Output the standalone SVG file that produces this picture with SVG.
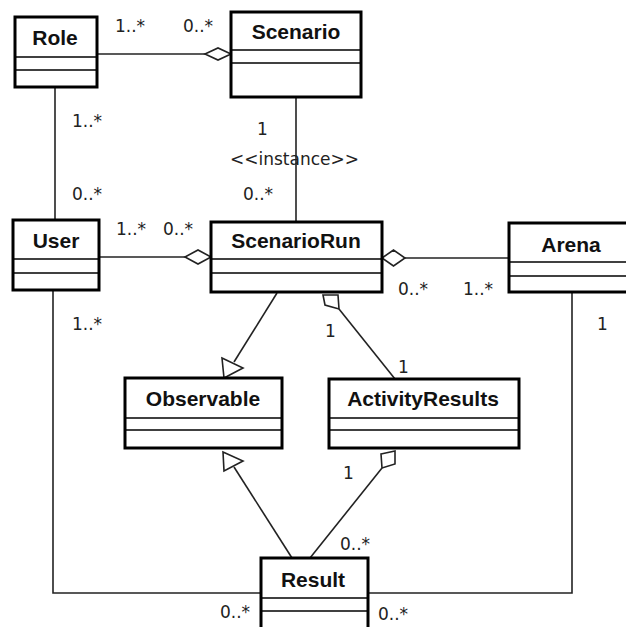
<svg xmlns="http://www.w3.org/2000/svg" width="626" height="627" viewBox="0 0 626 627">
<style>
.box{fill:#fff;stroke:#000;stroke-width:3}
.div{stroke:#000;stroke-width:1.5}
.title{font-family:"Liberation Sans",Arial,sans-serif;font-weight:bold;font-size:21px;fill:#111;text-anchor:middle}
.lbl{font-family:"DejaVu Sans",sans-serif;font-size:17px;fill:#222}
.ln{fill:none;stroke:#222;stroke-width:1.6}
.head{fill:#fff;stroke:#222;stroke-width:1.6;stroke-linejoin:miter}
</style>
<rect width="626" height="627" fill="#fff"/>
<g id="connectors">
  <line class="ln" x1="97" y1="54" x2="205" y2="54"/>
  <polygon class="head" points="205,54 218,48 231,54 218,60"/>
  <line class="ln" x1="55" y1="87" x2="55" y2="220"/>
  <line class="ln" x1="296" y1="97" x2="296" y2="222"/>
  <line class="ln" x1="99" y1="257" x2="185" y2="257"/>
  <polygon class="head" points="185,257 198,250 211,257 198,264"/>
  <line class="ln" x1="405" y1="258" x2="509" y2="258"/>
  <polygon class="head" points="382,258 393.5,250 405,258 393.5,266"/>
  <line class="ln" x1="277" y1="293" x2="234" y2="362"/>
  <polygon class="head" points="222,358 243,368 224,378"/>
  <polygon class="head" points="323,295 338,295 339,309 325,305"/>
  <line class="ln" x1="339" y1="309" x2="395" y2="379"/>
  <line class="ln" x1="292" y1="558" x2="234" y2="467"/>
  <polygon class="head" points="223,452 243,461 224,471"/>
  <polygon class="head" points="381,454 395,451 395,464 382,468"/>
  <line class="ln" x1="382" y1="468" x2="310" y2="558"/>
  <polyline class="ln" points="53,290 53,593 261,593"/>
  <polyline class="ln" points="572,292 572,593 368,593"/>
  <text class="lbl" x="115" y="32">1..*</text>
  <text class="lbl" x="183" y="32">0..*</text>
  <text class="lbl" x="72" y="127">1..*</text>
  <text class="lbl" x="72" y="200">0..*</text>
  <text class="lbl" x="257" y="135">1</text>
  <text class="lbl" x="230" y="165">&lt;&lt;instance&gt;&gt;</text>
  <text class="lbl" x="243" y="200">0..*</text>
  <text class="lbl" x="116" y="235">1..*</text>
  <text class="lbl" x="163" y="235">0..*</text>
  <text class="lbl" x="398" y="295">0..*</text>
  <text class="lbl" x="463" y="295">1..*</text>
  <text class="lbl" x="72" y="330">1..*</text>
  <text class="lbl" x="597" y="330">1</text>
  <text class="lbl" x="325" y="337">1</text>
  <text class="lbl" x="398" y="373">1</text>
  <text class="lbl" x="343" y="479">1</text>
  <text class="lbl" x="340" y="550">0..*</text>
  <text class="lbl" x="220" y="618">0..*</text>
  <text class="lbl" x="378" y="620">0..*</text>
</g>
<g id="Role">
  <rect class="box" x="15" y="17" width="82" height="70"/>
  <line class="div" x1="15" y1="57" x2="97" y2="57"/>
  <line class="div" x1="15" y1="70" x2="97" y2="70"/>
  <text class="title" x="55" y="45">Role</text>
</g>
<g id="Scenario">
  <rect class="box" x="231" y="12" width="130" height="85"/>
  <line class="div" x1="231" y1="50" x2="361" y2="50"/>
  <line class="div" x1="231" y1="63" x2="361" y2="63"/>
  <text class="title" x="296" y="39">Scenario</text>
</g>
<g id="User">
  <rect class="box" x="13" y="220" width="86" height="70"/>
  <line class="div" x1="13" y1="259" x2="99" y2="259"/>
  <line class="div" x1="13" y1="273" x2="99" y2="273"/>
  <text class="title" x="56" y="248">User</text>
</g>
<g id="ScenarioRun">
  <rect class="box" x="211" y="222" width="171" height="70"/>
  <line class="div" x1="211" y1="259" x2="382" y2="259"/>
  <line class="div" x1="211" y1="273" x2="382" y2="273"/>
  <text class="title" x="296" y="248">ScenarioRun</text>
</g>
<g id="Arena">
  <rect class="box" x="509" y="223" width="140" height="69"/>
  <line class="div" x1="509" y1="262" x2="626" y2="262"/>
  <line class="div" x1="509" y1="276" x2="626" y2="276"/>
  <text class="title" x="571" y="252">Arena</text>
</g>
<g id="Observable">
  <rect class="box" x="125" y="378" width="157" height="70"/>
  <line class="div" x1="125" y1="418" x2="282" y2="418"/>
  <line class="div" x1="125" y1="430" x2="282" y2="430"/>
  <text class="title" x="203" y="406">Observable</text>
</g>
<g id="ActivityResults">
  <rect class="box" x="329" y="379" width="190" height="69"/>
  <line class="div" x1="329" y1="418" x2="519" y2="418"/>
  <line class="div" x1="329" y1="430" x2="519" y2="430"/>
  <text class="title" x="423" y="406">ActivityResults</text>
</g>
<g id="Result">
  <rect class="box" x="261" y="558" width="107" height="90"/>
  <line class="div" x1="261" y1="598" x2="368" y2="598"/>
  <line class="div" x1="261" y1="611" x2="368" y2="611"/>
  <text class="title" x="313" y="587">Result</text>
</g>
</svg>
